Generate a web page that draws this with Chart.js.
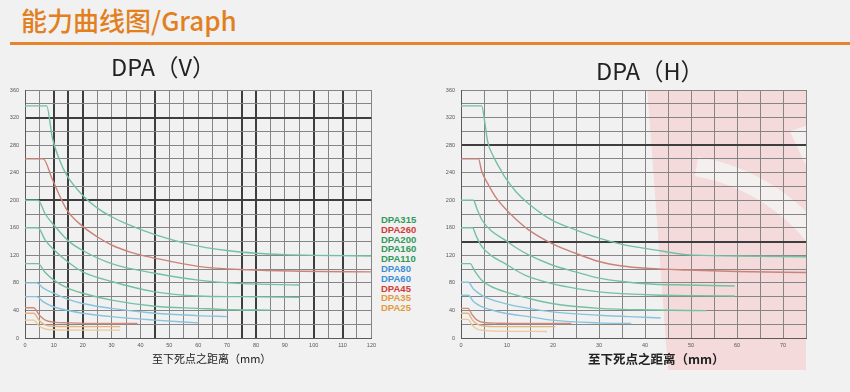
<!DOCTYPE html>
<html>
<head>
<meta charset="utf-8">
<script src="https://cdn.jsdelivr.net/npm/chart.js@4/dist/chart.umd.min.js"></script>
<style>
  body{margin:0;width:850px;height:392px;background:#f1f1f1;position:relative;overflow:hidden;font-family:"Noto Sans CJK SC","Noto Sans",sans-serif}
  .abs{position:absolute;z-index:2}
  #title{left:21px;top:1px;font-size:26px;font-weight:500;color:#e2801f;white-space:nowrap}
  #rule{left:10px;top:42px;width:840px;height:3px;background:#e8842c}
  .ctitle{font-size:23.5px;color:#222;white-space:nowrap}
  .xtitle{color:#222;white-space:nowrap}
  #legend{left:381px;top:215px;font:bold 9.5px "Liberation Sans",Arial,sans-serif;line-height:9.8px}
  canvas{position:absolute;z-index:1}
</style>
</head>
<body>
<canvas id="chartV" width="380" height="275" style="left:0;top:80px"></canvas>
<canvas id="chartH" width="375" height="300" style="left:435px;top:80px"></canvas>

<div id="title" class="abs">能力曲线图/Graph</div>
<div id="rule" class="abs"></div>
<div class="abs ctitle" style="left:111px;top:49px">DPA（V）</div>
<div class="abs ctitle" style="left:596px;top:53px">DPA（H）</div>
<div id="legend" class="abs"></div>
<div class="abs xtitle" style="left:152px;top:350px;font-size:11px">至下死点之距离（mm）</div>
<div class="abs xtitle" style="left:588px;top:349px;font-size:12.5px;font-weight:bold">至下死点之距离（mm）</div>

<script>
/* ── series names / colours ── */
const seriesNames = ['DPA315','DPA260','DPA200','DPA160','DPA110','DPA80','DPA60','DPA45','DPA35','DPA25'];
const legendColors = ['#2f9a5c','#d23b36','#2f9a5c','#2f9a5c','#2f9a5c','#3b8fd6','#3b8fd6','#d23b36','#e39a3f','#e39a3f'];
const lineColors   = ['#74c0a2','#c9837a','#74c0a2','#74c0a2','#74c0a2','#86c3dc','#86c3dc','#cf8a7c','#e4b47e','#ebc99a'];

/* ── axis ticks ── */
const yTicks  = { min: 0, max: 360, step: 20, labelEvery: 40 };
const xTicksV = { min: 0, max: 120, step: 5, labelEvery: 10 };
const xTicksH = { min: 0, max: 75,  step: 5, labelEvery: 10 };

/* ── DPA (V): [distance mm, force] ── */
const v315 = [[0,337],[7.5,337],[9.5,290],[12,258],[14.5,236],[20,207],[26,186],[30,176],[35,166],[45,150],[57,136],[70,127],[80,123],[90,121],[100,120],[120,119]];
const v260 = [[0,260],[6.3,260],[9.5,230],[14.5,186],[20,162],[25,147],[30,135],[37,124],[45,116],[60,104],[77,99],[95,97],[120,96]];
const v200 = [[0,200],[4.5,200],[7,180],[10,164],[15,141],[20,127],[30,108],[45,94],[60,84],[75,79],[95,77]];
const v160 = [[0,160],[4.5,160],[7,142],[10,128],[15,110],[20,96],[30,82],[45,67],[60,61],[75,60],[95,59]];
const v110 = [[0,108],[4.5,108],[7,95],[10,84],[15,72],[20,65],[30,55],[45,46],[60,43],[72,41],[85,40.5]];
const v80  = [[0,80],[4,80],[6.5,72],[10,65],[15,56],[20,50],[30,43],[45,36],[60,32.5],[70,31]];
const v60  = [[0,60],[4,60],[6.5,52],[10,45],[15,40],[20,36],[30,31],[45,26],[60,22]];
const v45  = [[0,44],[3,44],[5,33],[7,26],[10,23],[15,22],[25,21],[39,21]];
const v35  = [[0,36],[3,36],[5,25],[7,19],[10,17],[20,16.5],[33,16.5]];
const v25  = [[0,26],[3,26],[5,17],[7,13],[10,12],[20,11.5],[33,11.5]];

/* ── DPA (H) ── */
const h315 = [[0,337],[4.5,337],[5.2,312],[5.8,285],[7,264],[8.3,248],[9.6,233],[12,212],[14.7,195],[19.8,171],[24.9,157],[30,145],[35,136],[42,128],[49,121],[60,119],[75,118]];
const h260 = [[0,260],[3.8,260],[4.5,242],[6,222],[7.5,205],[9.6,188],[12,172],[14.7,157],[19.8,137],[24.9,123],[30,111],[35,104.5],[41,101],[49,98.7],[60,96.5],[75,95]];
const h200 = [[0,200],[2.7,200],[3.5,187],[4.5,172],[6.5,156],[9.6,142],[12,131],[14.7,120.5],[19.8,106],[24.9,96],[30,87],[35,82],[42,78],[49,77],[59.5,75.5]];
const h160 = [[0,160],[2.5,160],[3.3,148],[4.5,133],[6.5,120],[9.6,108],[12,98],[14.7,89],[19.8,79],[24.9,72],[30,67],[36,64],[42,62.4],[50,61.5],[59.5,61]];
const h110 = [[0,108],[2,108],[3,97],[4.5,84],[6.5,75],[9.6,67],[14.7,57.6],[19.8,50],[30,43],[42,40.6],[53.3,39.7]];
const h80  = [[0,81],[1.6,81],[2.7,71],[4.5,62],[6.5,56],[9.6,50],[14.7,43],[19.8,38],[30,33],[36.5,31],[43.4,29]];
const h60  = [[0,62],[1.6,62],[2.7,53],[4.5,45.5],[6.5,41],[9.6,36],[14.7,31],[19.8,26],[30,22],[37,21]];
const h45  = [[0,43],[1.5,43],[2.5,33],[3.5,26],[5,22.5],[8,21.5],[15,21],[24,21]];
const h35  = [[0,36],[1.5,36],[2.5,26],[3.5,20],[5,17.5],[8,16.5],[20.5,16.5]];
const h25  = [[0,27],[1.5,27],[2.5,18],[3.5,13],[5,11],[8,10],[18.7,9.5]];

/* ── darker scan lines in the grid ── */
const thickXV = [10,15,20,45,75,80,100,110];
const thickYV = [320,200];
const thickXH = [];
const thickYH = [280,140];

/* legend (only on V chart) */
document.getElementById('legend').innerHTML = seriesNames
  .map((n, i) => `<div style="color:${legendColors[i]}">${n}</div>`).join('');

function toDatasets(list){
  return list.map((pts, i) => ({
    label: seriesNames[i],
    data: pts.map(([x, y]) => ({ x, y })),
    borderColor: lineColors[i],
    borderWidth: 1.4,
    pointRadius: 0,
    fill: false,
    cubicInterpolationMode: 'monotone'
  }));
}

function gridOpts(thick){
  return {
    color: c => thick.includes(c.tick?.value) ? '#3e3e3e' : '#858585',
    lineWidth: c => thick.includes(c.tick?.value) ? 2 : 1,
    drawTicks: false
  };
}

/* pink watermark behind the H grid */
const watermark = {
  id: 'watermark',
  beforeDraw(chart){
    if (chart.canvas.id !== 'chartH') return;
    const { ctx, chartArea: a, scales: { x, y } } = chart;
    ctx.save();
    ctx.fillStyle = '#f4dada';
    ctx.beginPath();
    ctx.moveTo(x.getPixelForValue(40.5), a.top);
    ctx.lineTo(a.right, a.top);
    ctx.lineTo(a.right, a.bottom + 32);
    ctx.lineTo(x.getPixelForValue(45), a.bottom + 32);
    ctx.closePath();
    ctx.fill();
    // white swoosh
    ctx.strokeStyle = 'rgba(245,243,243,0.85)';
    ctx.lineWidth = 20;
    ctx.beginPath();
    ctx.arc(x.getPixelForValue(44), y.getPixelForValue(-30), 195, -1.40, -0.62);
    ctx.stroke();
    ctx.fillStyle = 'rgba(245,243,243,0.85)';
    ctx.beginPath();
    ctx.moveTo(x.getPixelForValue(71.5), y.getPixelForValue(300));
    ctx.lineTo(a.right, y.getPixelForValue(308));
    ctx.lineTo(a.right, y.getPixelForValue(250));
    ctx.closePath();
    ctx.fill();
    ctx.restore();
  }
};

function makeChart(id, list, xt, thickX, thickY, pad, yWidth){
  return new Chart(document.getElementById(id), {
    type: 'line',
    data: { datasets: toDatasets(list) },
    plugins: [watermark],
    options: {
      responsive: false, animation: false,
      layout: { padding: pad },
      plugins: { legend: { display: false }, tooltip: { enabled: false } },
      scales: {
        x: {
          type: 'linear', min: xt.min, max: xt.max,
          grid: gridOpts(thickX),
          border: { color: '#5a5a5a', width: 1 },
          afterFit: s => { s.height = 12; },
          ticks: {
            stepSize: xt.step, autoSkip: false, maxRotation: 0, padding: 4,
            color: '#555', font: { size: 5.5, family: 'Liberation Sans' },
            callback: v => v % xt.labelEvery === 0 ? String(v) : ''
          }
        },
        y: {
          min: yTicks.min, max: yTicks.max,
          grid: gridOpts(thickY),
          border: { color: '#5a5a5a', width: 1 },
          afterFit: s => { s.width = yWidth; },
          ticks: {
            stepSize: yTicks.step, autoSkip: false, padding: 6,
            color: '#555', font: { size: 5.5, family: 'Liberation Sans' },
            callback: v => v % yTicks.labelEvery === 0 ? String(v) : ''
          }
        }
      }
    }
  });
}

makeChart('chartV', [v315,v260,v200,v160,v110,v80,v60,v45,v35,v25], xTicksV, thickXV, thickYV,
  { top: 10, right: 8, bottom: 5, left: 0 }, 25);
makeChart('chartH', [h315,h260,h200,h160,h110,h80,h60,h45,h35,h25], xTicksH, thickXH, thickYH,
  { top: 10, right: 4, bottom: 30, left: 0 }, 26);
</script>
</body>
</html>
